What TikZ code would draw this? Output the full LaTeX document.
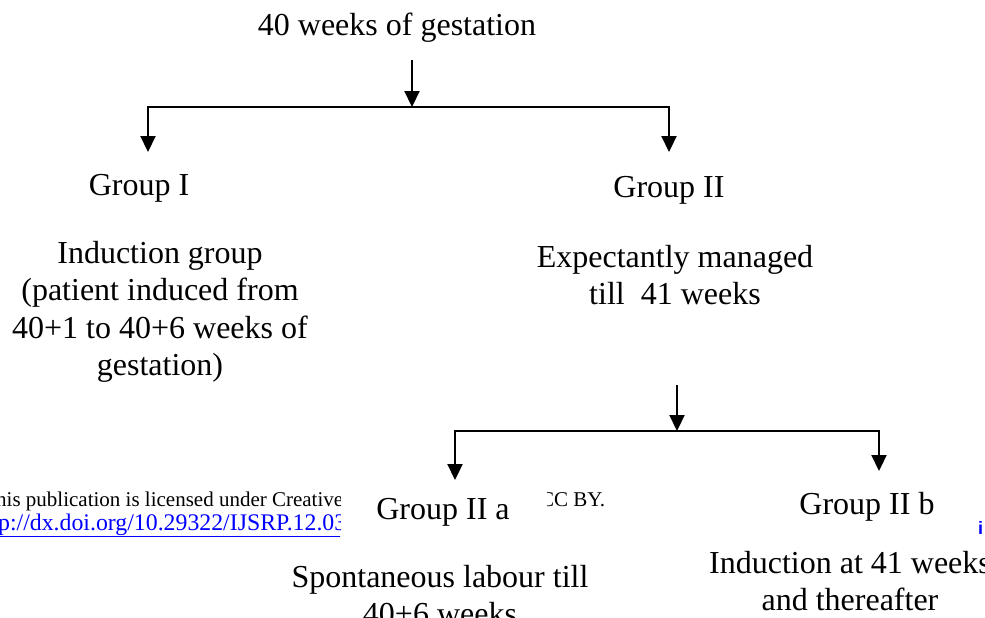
\documentclass[tikz,border=0pt]{standalone}
\usepackage{fontspec}
\setmainfont{Liberation Serif}
\newfontfamily\linkfont{Liberation Sans}
\usetikzlibrary{positioning,arrows.meta}

\tikzset{
  txt/.style={align=center, font=\fontsize{32}{37.5}\selectfont, inner sep=0pt},
  foot/.style={anchor=base west, font=\fontsize{21}{24}\selectfont, inner sep=0pt},
  arr/.style={line width=2.2pt, -{Triangle[length=16pt,width=15pt]}},
}

\begin{document}
\begin{tikzpicture}[x=1pt,y=1pt,yscale=-1,xscale=1]
\path[use as bounding box] (0,0) rectangle (985,618);

% footer of the page behind
\begin{scope}
\clip (0,480) rectangle (340,550);
\node[foot] (lic) at (-4,506) {his publication is licensed under Creative};
\node[foot, text=blue, font=\fontsize{23.8}{26}\selectfont] (doi) at (-2,530) {\underline{p://dx.doi.org/10.29322/IJSRP.12.03}};
\end{scope}
\begin{scope}
\clip (547,480) rectangle (700,550);
\node[foot] (ccby) at (540,506) {CC BY.};
\end{scope}
\node[foot, text=blue, font=\linkfont\bfseries\fontsize{18}{20}\selectfont] (ilink) at (978,534) {i};

% Text Node
\node[txt] (top) at (397,28) {40 weeks of gestation};
% Text Node
\node[txt] (g1) at (139,188) {Group I};
% Text Node
\node[txt] (g2) at (669,190) {Group II};
% Text Node
\node[txt] (g1txt) at (160,312) {Induction group\\(patient induced from\\40+1 to 40+6 weeks of\\gestation)};
% Text Node
\node[txt] (g2txt) at (675,275) {Expectantly managed\\till\ \ 41 weeks};
% Text Node
\node[txt] (g2a) at (443,512) {Group II a};
% Text Node
\node[txt] (g2b) at (867,507) {Group II b};
% Text Node
\node[txt] (g2atxt) at (440,595) {Spontaneous labour till\\40+6 weeks};
% Text Node
\node[txt] (g2btxt) at (850,581) {Induction at 41 weeks\\and thereafter};

% first split
\coordinate (a0) at (412,60);
\coordinate (s1) at (412,107);
\coordinate (t1) at (148,152);
\coordinate (t2) at (669,152);
\draw[arr] (a0) -- (s1);
\draw[arr] (s1) -| (t1);
\draw[arr] (s1) -| (t2);

% second split
\coordinate (b0) at (677,385);
\coordinate (s2) at (677,431);
\coordinate (t3) at (455,480);
\coordinate (t4) at (879,471);
\draw[arr] (b0) -- (s2);
\draw[arr] (s2) -| (t3);
\draw[arr] (s2) -| (t4);

\end{tikzpicture}
\end{document}
